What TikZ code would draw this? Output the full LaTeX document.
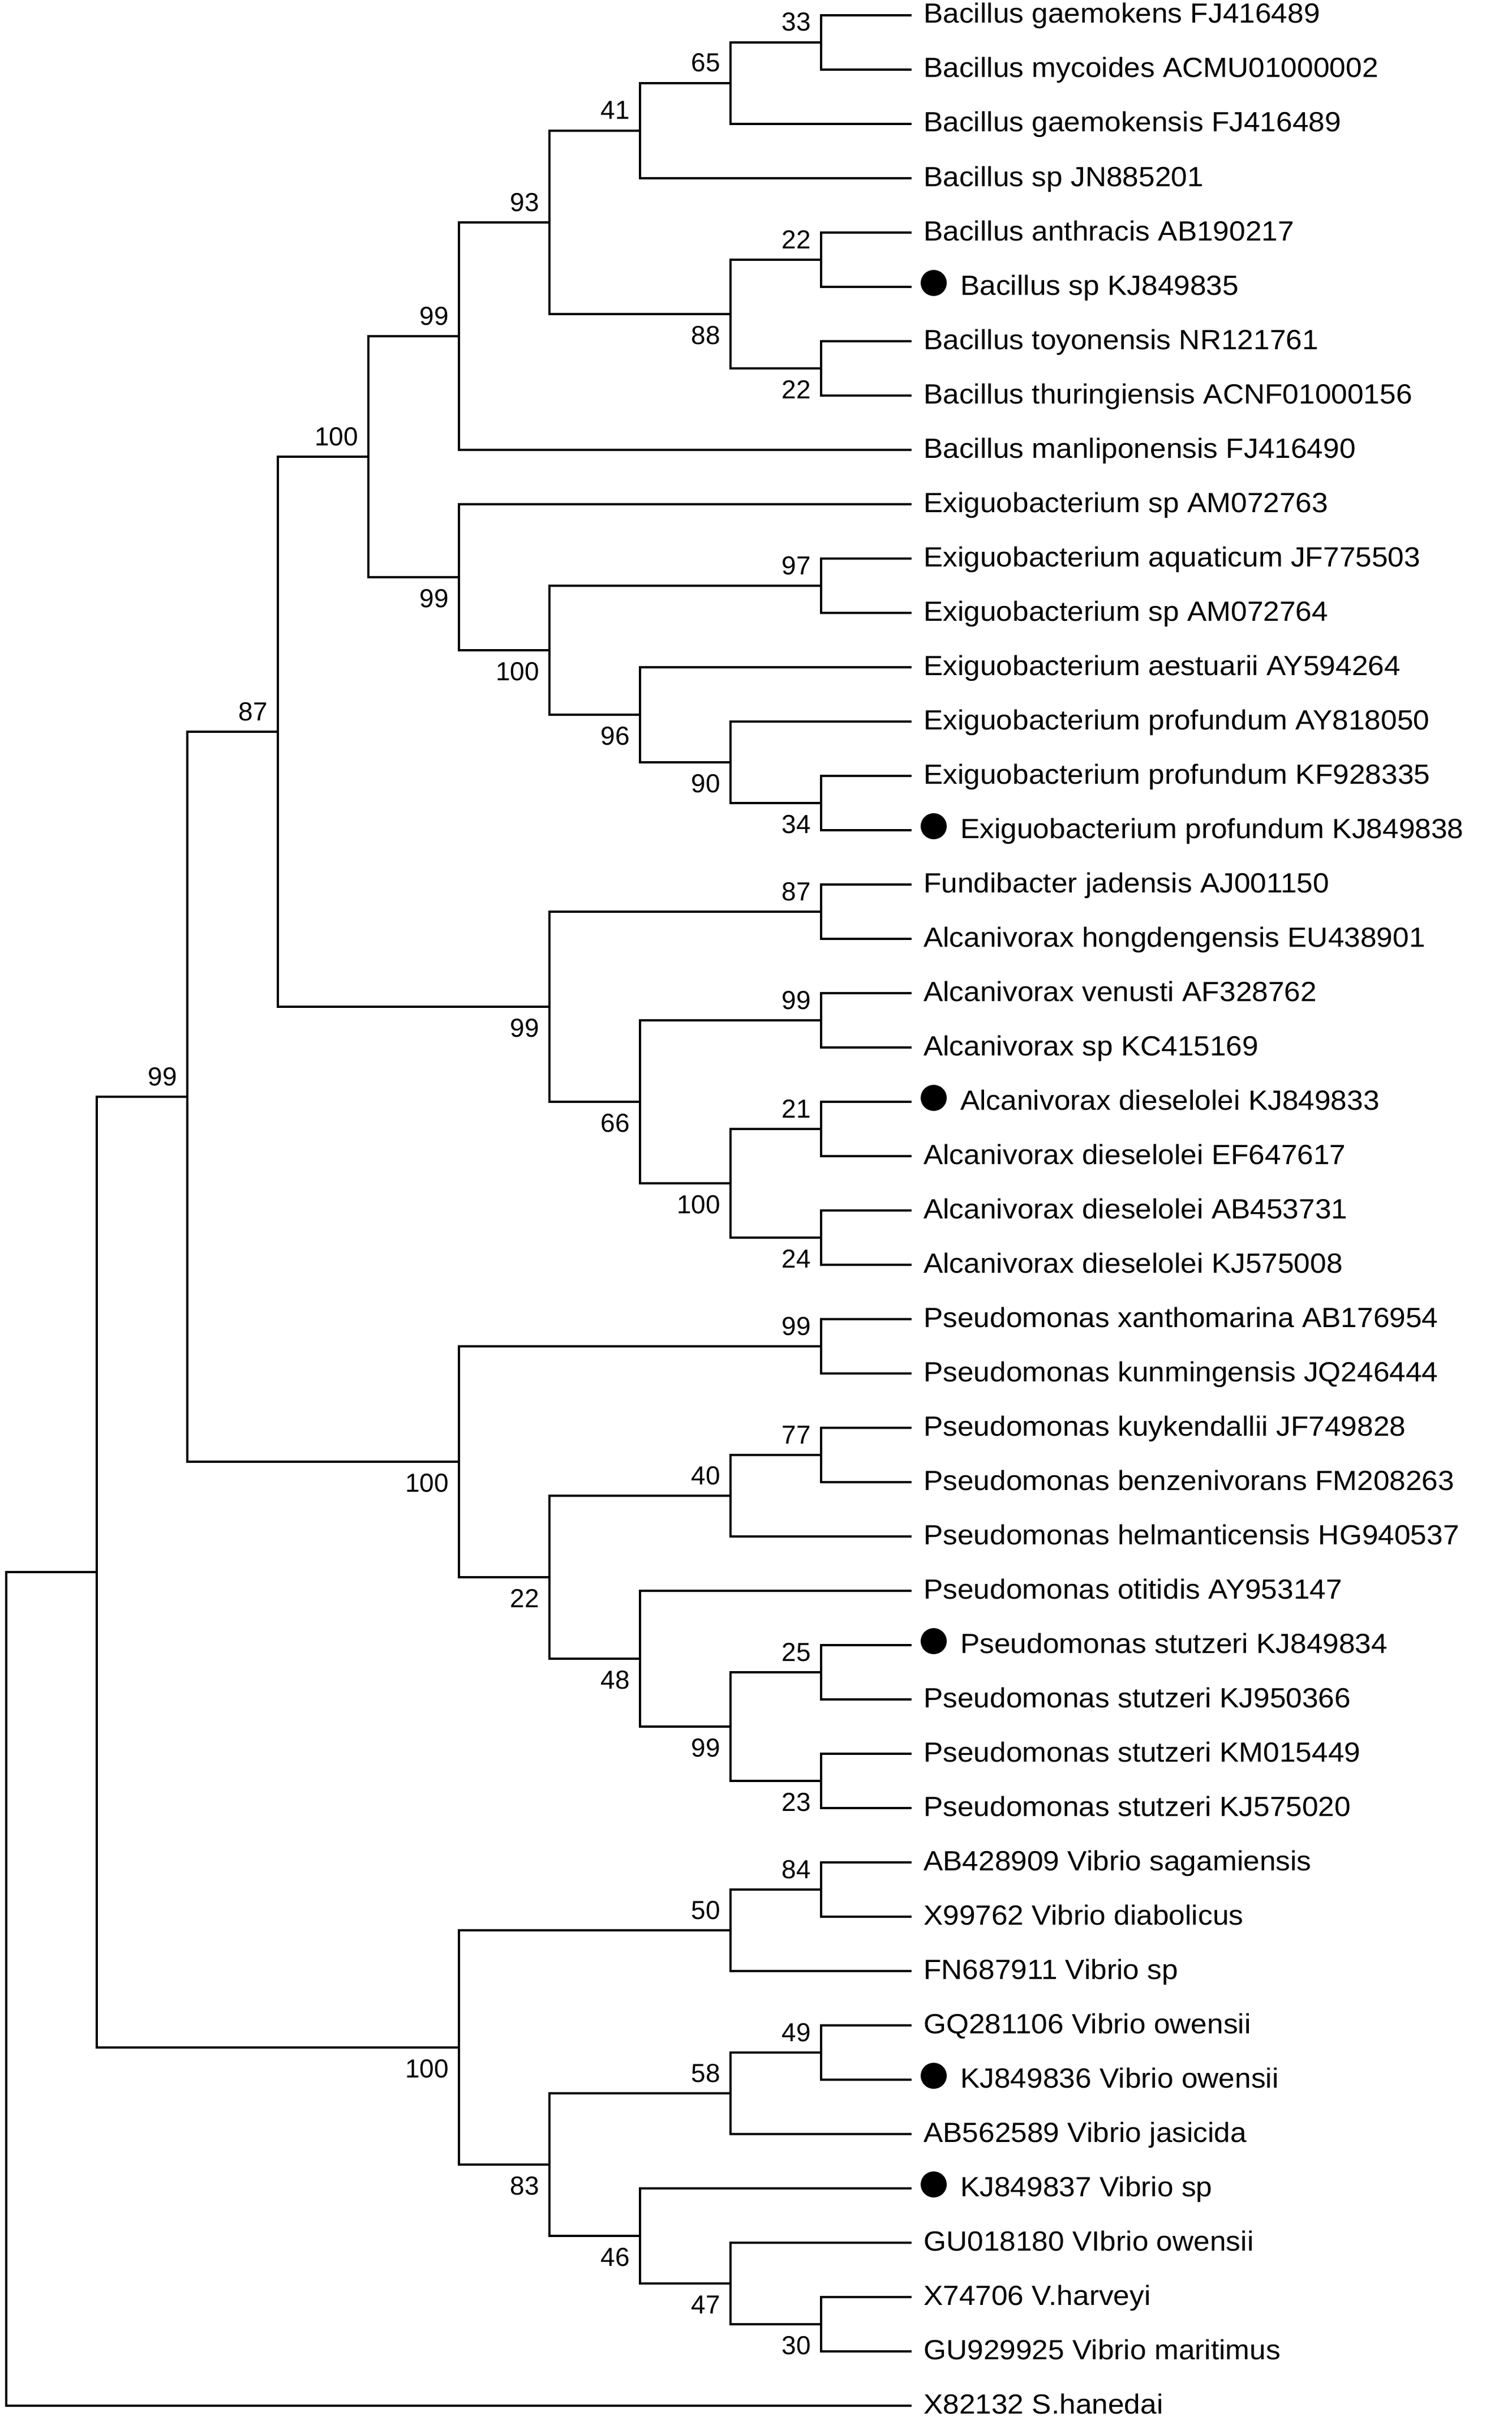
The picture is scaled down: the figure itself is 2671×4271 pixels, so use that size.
\documentclass[tikz,border=0pt]{standalone}
\usepackage{fontspec}
\setmainfont{Liberation Sans}
\newcommand{\leaffont}{\fontsize{49}{56}\selectfont}
\newcommand{\labfont}{\fontsize{46}{50}\selectfont}
\newcommand{\Leaf}[2]{%
  \coordinate (e#1) at (1611,{27+96*(#1-1)});
  \node[leaftext] (t#1) at (1632,{27+96*(#1-1)}) {\scalebox{1.05}[1]{#2}};}
\newcommand{\MLeaf}[2]{%
  \coordinate (e#1) at (1611,{27+96*(#1-1)});
  \node[dotmark] (d#1) at (1650,{27+96*(#1-1)-7}) {};
  \node[leaftext] (t#1) at (1697,{27+96*(#1-1)}) {\scalebox{1.05}[1]{#2}};}
\newcommand{\Int}[5]{%
  \coordinate (n#1) at ({11+160*#2},{27+96*(#3-1)});
  \node[#5] (l#1) at (n#1) {#4};}
\newcommand{\Br}[3]{\draw[branch] (#1) |- (#2) (#1) |- (#3);}
\begin{document}
\begin{tikzpicture}[x=1pt,y=-1pt,
  branch/.style={line width=3.5pt, line join=miter, black},
  leaftext/.style={anchor=base west, inner sep=0pt, font=\leaffont, yshift=-14pt},
  dotmark/.style={circle, fill=black, draw=none, minimum size=46pt, inner sep=0pt},
  labA/.style={anchor=base east, inner sep=0pt, font=\labfont, xshift=-18pt, yshift=20pt},
  labB/.style={anchor=base east, inner sep=0pt, font=\labfont, xshift=-18pt, yshift=-53pt}]
\useasboundingbox (0,0) rectangle (2671,4271);
\fill[white] (0,0) rectangle (2671,4271);
% leaves
\Leaf{1}{Bacillus gaemokens FJ416489}
\Leaf{2}{Bacillus mycoides ACMU01000002}
\Leaf{3}{Bacillus gaemokensis FJ416489}
\Leaf{4}{Bacillus sp JN885201}
\Leaf{5}{Bacillus anthracis AB190217}
\MLeaf{6}{Bacillus sp KJ849835}
\Leaf{7}{Bacillus toyonensis NR121761}
\Leaf{8}{Bacillus thuringiensis ACNF01000156}
\Leaf{9}{Bacillus manliponensis FJ416490}
\Leaf{10}{Exiguobacterium sp AM072763}
\Leaf{11}{Exiguobacterium aquaticum JF775503}
\Leaf{12}{Exiguobacterium sp AM072764}
\Leaf{13}{Exiguobacterium aestuarii AY594264}
\Leaf{14}{Exiguobacterium profundum AY818050}
\Leaf{15}{Exiguobacterium profundum KF928335}
\MLeaf{16}{Exiguobacterium profundum KJ849838}
\Leaf{17}{Fundibacter jadensis AJ001150}
\Leaf{18}{Alcanivorax hongdengensis EU438901}
\Leaf{19}{Alcanivorax venusti AF328762}
\Leaf{20}{Alcanivorax sp KC415169}
\MLeaf{21}{Alcanivorax dieselolei KJ849833}
\Leaf{22}{Alcanivorax dieselolei EF647617}
\Leaf{23}{Alcanivorax dieselolei AB453731}
\Leaf{24}{Alcanivorax dieselolei KJ575008}
\Leaf{25}{Pseudomonas xanthomarina AB176954}
\Leaf{26}{Pseudomonas kunmingensis JQ246444}
\Leaf{27}{Pseudomonas kuykendallii JF749828}
\Leaf{28}{Pseudomonas benzenivorans FM208263}
\Leaf{29}{Pseudomonas helmanticensis HG940537}
\Leaf{30}{Pseudomonas otitidis AY953147}
\MLeaf{31}{Pseudomonas stutzeri KJ849834}
\Leaf{32}{Pseudomonas stutzeri KJ950366}
\Leaf{33}{Pseudomonas stutzeri KM015449}
\Leaf{34}{Pseudomonas stutzeri KJ575020}
\Leaf{35}{AB428909 Vibrio sagamiensis}
\Leaf{36}{X99762 Vibrio diabolicus}
\Leaf{37}{FN687911 Vibrio sp}
\Leaf{38}{GQ281106 Vibrio owensii}
\MLeaf{39}{KJ849836 Vibrio owensii}
\Leaf{40}{AB562589 Vibrio jasicida}
\MLeaf{41}{KJ849837 Vibrio sp}
\Leaf{42}{GU018180 VIbrio owensii}
\Leaf{43}{X74706 V.harveyi}
\Leaf{44}{GU929925 Vibrio maritimus}
\Leaf{45}{X82132 S.hanedai}
% internal nodes: name, level, index, label, label style
\Int{33}{9}{1.5}{33}{labA}
\Int{65}{8}{2.25}{65}{labA}
\Int{41}{7}{3.125}{41}{labA}
\Int{22a}{9}{5.5}{22}{labA}
\Int{22b}{9}{7.5}{22}{labB}
\Int{88}{8}{6.5}{88}{labB}
\Int{93}{6}{4.8125}{93}{labA}
\Int{99B}{5}{6.90625}{99}{labA}
\Int{97}{9}{11.5}{97}{labA}
\Int{34}{9}{15.5}{34}{labB}
\Int{90}{8}{14.75}{90}{labB}
\Int{96}{7}{13.875}{96}{labB}
\Int{100E}{6}{12.6875}{100}{labB}
\Int{99E}{5}{11.34375}{99}{labB}
\Int{100BE}{4}{9.125}{100}{labA}
\Int{87A}{9}{17.5}{87}{labA}
\Int{99A2}{9}{19.5}{99}{labA}
\Int{21}{9}{21.5}{21}{labA}
\Int{24}{9}{23.5}{24}{labB}
\Int{100A}{8}{22.5}{100}{labB}
\Int{66}{7}{21}{66}{labB}
\Int{99A}{6}{19.25}{99}{labB}
\Int{87}{3}{14.1875}{87}{labA}
\Int{99P}{9}{25.5}{99}{labA}
\Int{77}{9}{27.5}{77}{labA}
\Int{40}{8}{28.25}{40}{labA}
\Int{25}{9}{31.5}{25}{labA}
\Int{23}{9}{33.5}{23}{labB}
\Int{99P2}{8}{32.5}{99}{labB}
\Int{48}{7}{31.25}{48}{labB}
\Int{22P}{6}{29.75}{22}{labB}
\Int{100P}{5}{27.625}{100}{labB}
\Int{99top}{2}{20.90625}{99}{labA}
\Int{84}{9}{35.5}{84}{labA}
\Int{50}{8}{36.25}{50}{labA}
\Int{49}{9}{38.5}{49}{labA}
\Int{58}{8}{39.25}{58}{labA}
\Int{30}{9}{43.5}{30}{labB}
\Int{47}{8}{42.75}{47}{labB}
\Int{46}{7}{41.875}{46}{labB}
\Int{83}{6}{40.5625}{83}{labB}
\Int{100V}{5}{38.40625}{100}{labB}
\coordinate (n171) at (171,{27+96*(29.65625-1)});
\coordinate (root) at (11,{27+96*(37.328125-1)});
% branches
\Br{n33}{e1}{e2}
\Br{n65}{n33}{e3}
\Br{n41}{n65}{e4}
\Br{n22a}{e5}{e6}
\Br{n22b}{e7}{e8}
\Br{n88}{n22a}{n22b}
\Br{n93}{n41}{n88}
\Br{n99B}{n93}{e9}
\Br{n97}{e11}{e12}
\Br{n34}{e15}{e16}
\Br{n90}{e14}{n34}
\Br{n96}{e13}{n90}
\Br{n100E}{n97}{n96}
\Br{n99E}{e10}{n100E}
\Br{n100BE}{n99B}{n99E}
\Br{n87A}{e17}{e18}
\Br{n99A2}{e19}{e20}
\Br{n21}{e21}{e22}
\Br{n24}{e23}{e24}
\Br{n100A}{n21}{n24}
\Br{n66}{n99A2}{n100A}
\Br{n99A}{n87A}{n66}
\Br{n87}{n100BE}{n99A}
\Br{n99P}{e25}{e26}
\Br{n77}{e27}{e28}
\Br{n40}{n77}{e29}
\Br{n25}{e31}{e32}
\Br{n23}{e33}{e34}
\Br{n99P2}{n25}{n23}
\Br{n48}{e30}{n99P2}
\Br{n22P}{n40}{n48}
\Br{n100P}{n99P}{n22P}
\Br{n99top}{n87}{n100P}
\Br{n84}{e35}{e36}
\Br{n50}{n84}{e37}
\Br{n49}{e38}{e39}
\Br{n58}{n49}{e40}
\Br{n30}{e43}{e44}
\Br{n47}{e42}{n30}
\Br{n46}{e41}{n47}
\Br{n83}{n58}{n46}
\Br{n100V}{n50}{n83}
\Br{n171}{n99top}{n100V}
\Br{root}{n171}{e45}
\end{tikzpicture}
\end{document}
